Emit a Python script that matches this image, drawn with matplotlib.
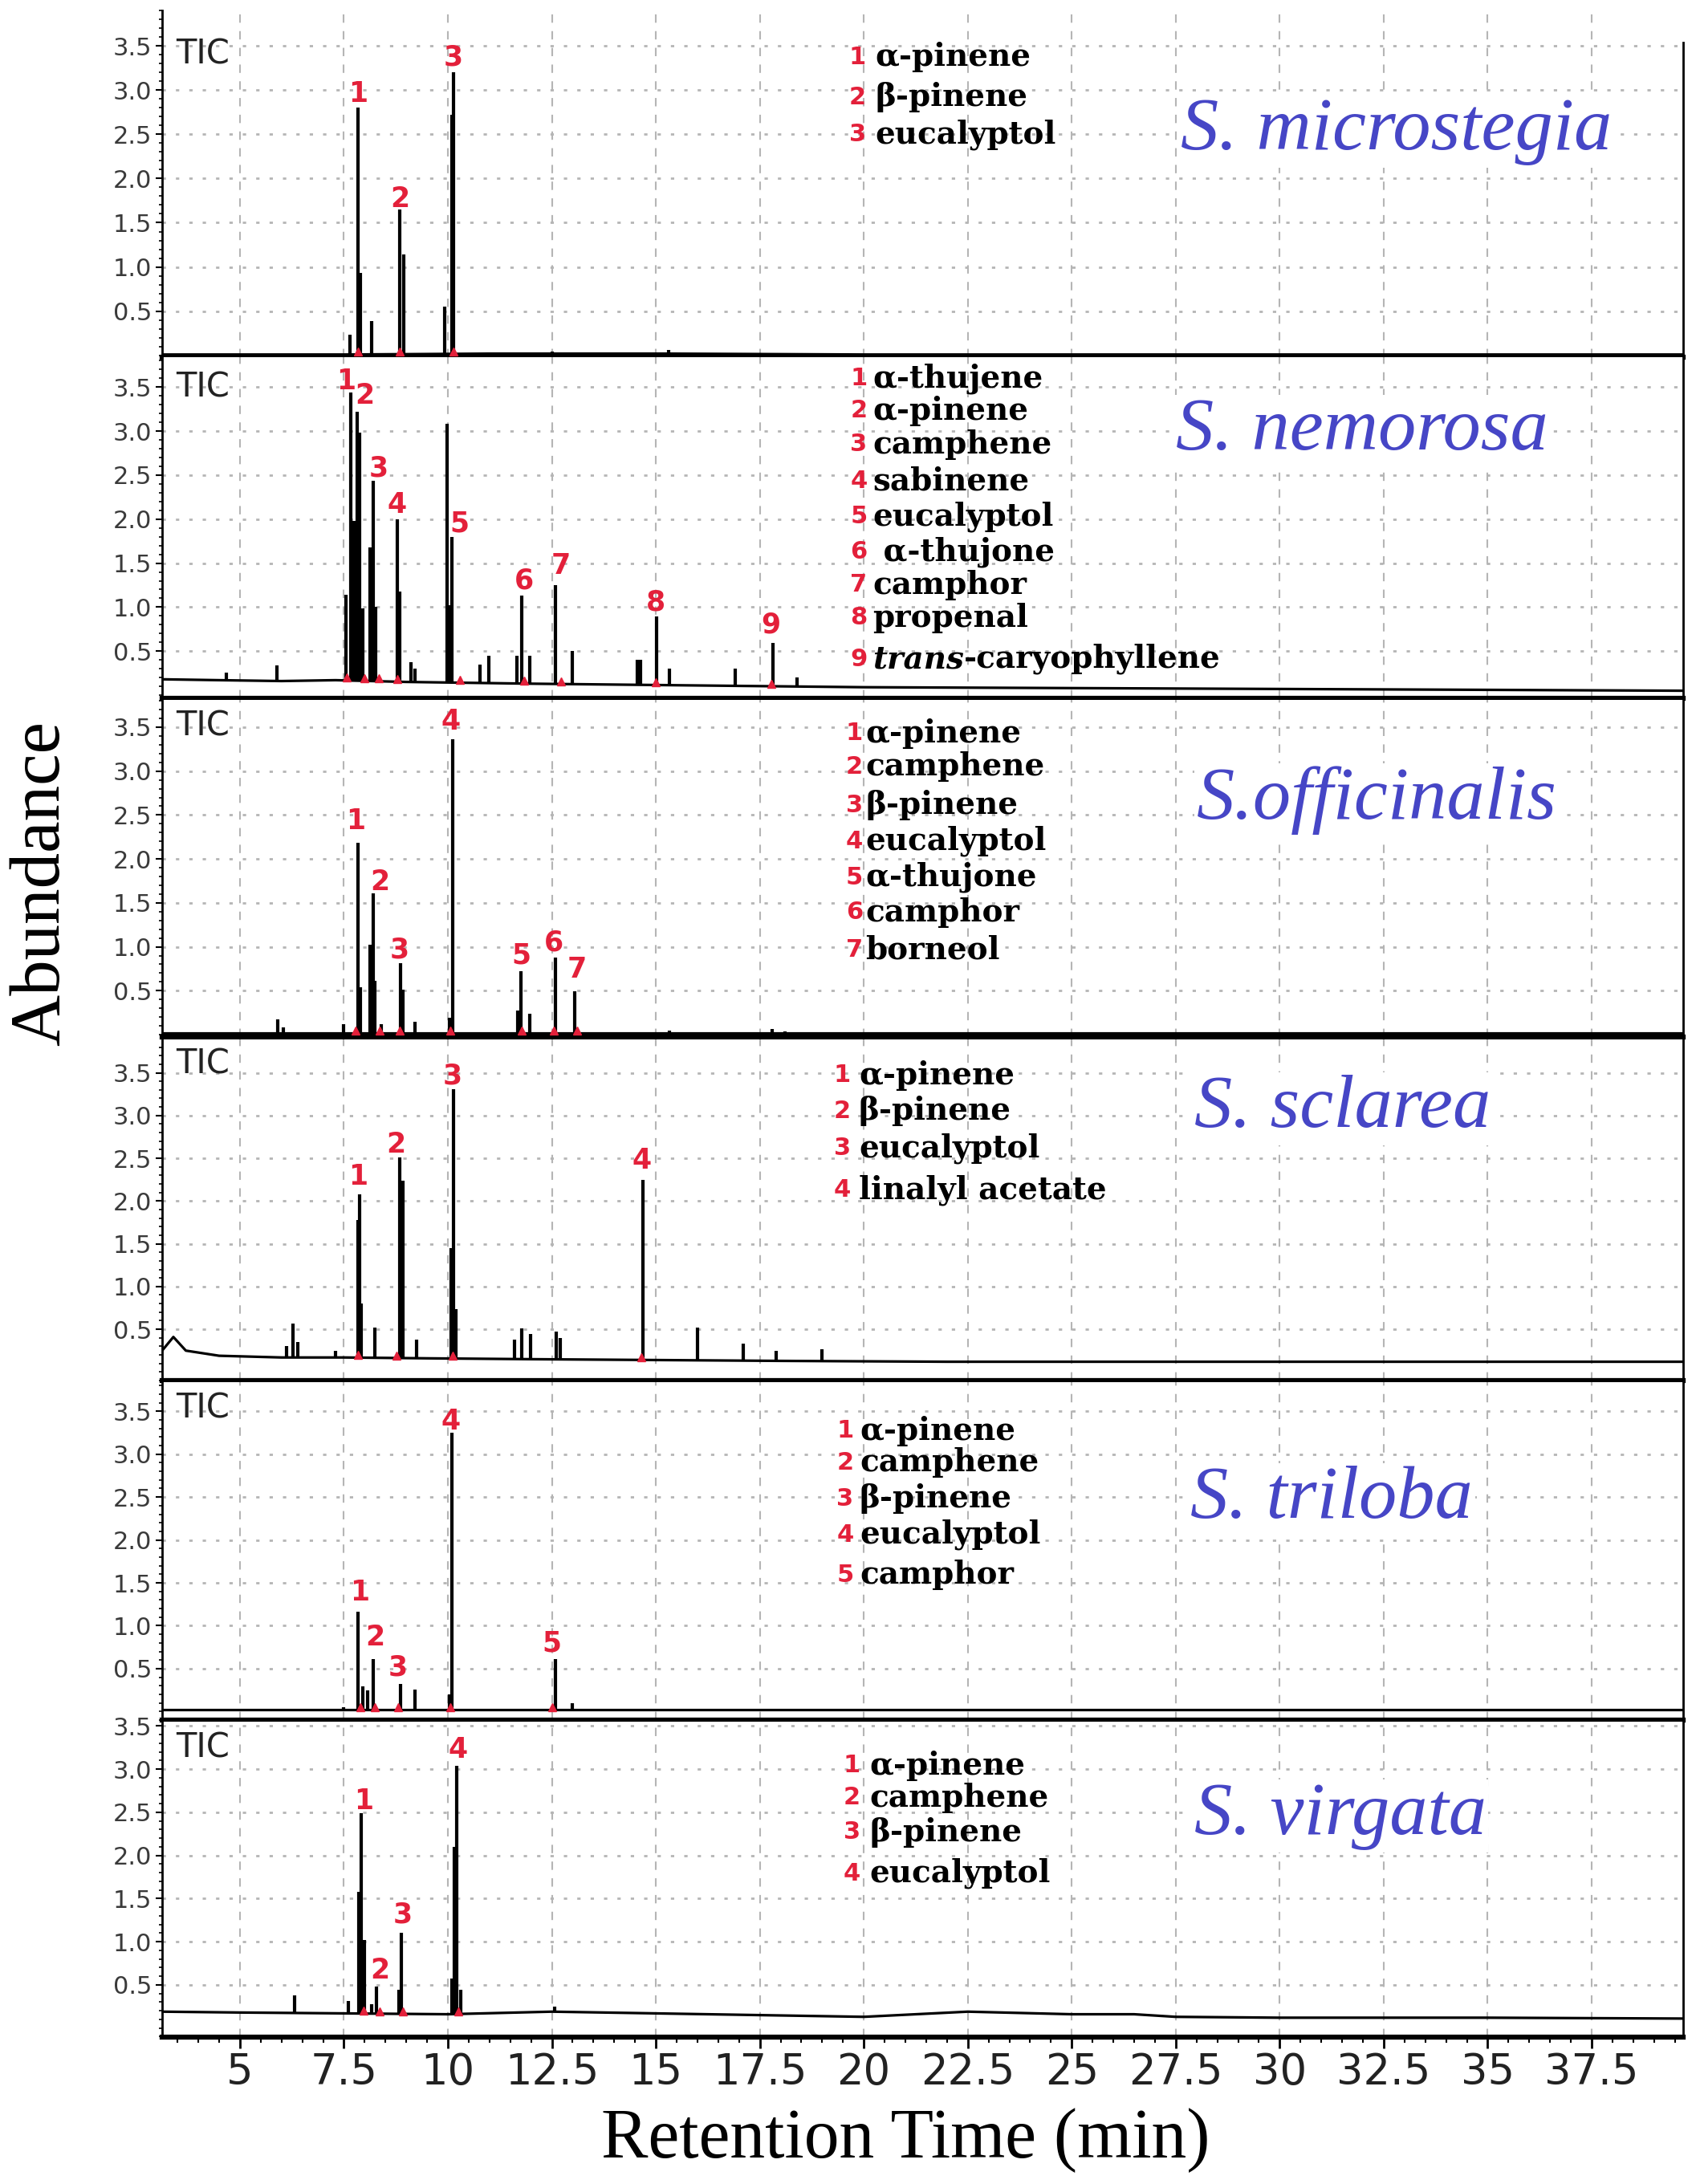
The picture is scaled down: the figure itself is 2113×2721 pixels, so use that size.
import numpy as np
import matplotlib
matplotlib.use("Agg")
import matplotlib.pyplot as plt
from matplotlib.ticker import MultipleLocator, FuncFormatter

# GC-MS chromatograms (TIC) of six Salvia essential oils

RED = "#e3203a"
BLUE = "#4646c6"

species = ["S. microstegia", "S. nemorosa", "S.officinalis",
           "S. sclarea", "S. triloba", "S. virgata"]

# --- S. microstegia ---
rt_mic = [7.65, 7.84, 7.90, 8.17, 8.85, 8.93, 9.93, 10.10, 10.14, 10.96, 12.5, 12.9, 15.3]
ab_mic = [0.23, 2.80, 0.93, 0.39, 1.65, 1.14, 0.55, 2.72, 3.20, 0.03, 0.04, 0.03, 0.06]
base_t_mic = [3.13, 7.5, 11.0, 15.3, 20.0, 39.7]
base_y_mic = [0.01, 0.01, 0.02, 0.02, 0.01, 0.01]
lbl_t_mic = [7.84, 8.85, 10.14]
lbl_y_mic = [2.96, 1.77, 3.37]
cmp_mic = ["α-pinene", "β-pinene", "eucalyptol"]

# --- S. nemorosa ---
rt_nem = [4.68, 5.89, 7.55, 7.67, 7.74, 7.81, 7.88, 7.95, 8.13, 8.20, 8.27, 8.78, 8.85,
          9.11, 9.20, 9.98, 10.04, 10.09, 10.77, 10.99, 11.66, 11.77, 11.96, 12.58,
          13.0, 14.55, 14.64, 15.01, 15.33, 16.9, 17.82, 18.4]
ab_nem = [0.26, 0.34, 1.14, 3.44, 1.98, 3.22, 2.98, 0.99, 1.68, 2.44, 1.00, 2.00, 1.18,
          0.37, 0.30, 3.08, 1.02, 1.80, 0.35, 0.45, 0.45, 1.13, 0.45, 1.25,
          0.50, 0.40, 0.40, 0.89, 0.30, 0.30, 0.59, 0.20]
base_t_nem = [3.13, 4.5, 6.0, 7.3, 9.0, 10.5, 12.0, 14.0, 16.0, 18.0, 20.0, 25.0, 30.0, 35.0, 39.7]
base_y_nem = [0.18, 0.17, 0.16, 0.17, 0.15, 0.14, 0.13, 0.12, 0.11, 0.10, 0.09, 0.08, 0.07, 0.06, 0.05]
lbl_t_nem = [7.56, 8.0, 8.34, 8.78, 10.28, 11.83, 12.72, 14.99, 17.77]
lbl_y_nem = [3.57, 3.40, 2.58, 2.16, 1.95, 1.30, 1.47, 1.05, 0.80]
cmp_nem = ["α-thujene", "α-pinene", "camphene", "sabinene", "eucalyptol",
           " α-thujone", "camphor", "propenal", "trans-caryophyllene"]

# --- S. officinalis ---
rt_off = [5.9, 6.05, 7.5, 7.84, 7.90, 8.13, 8.20, 8.25, 8.40, 8.86, 8.92, 9.2, 10.03,
          10.11, 11.68, 11.75, 11.97, 12.58, 13.05, 15.32, 17.8, 18.1]
ab_off = [0.17, 0.08, 0.12, 2.18, 0.54, 1.02, 1.61, 0.61, 0.12, 0.81, 0.51, 0.15, 0.19,
          3.36, 0.27, 0.72, 0.24, 0.88, 0.49, 0.05, 0.06, 0.04]
base_t_off = [3.13, 10.0, 20.0, 39.7]
base_y_off = [0.02, 0.02, 0.02, 0.02]
lbl_t_off = [7.78, 8.36, 8.84, 10.06, 11.77, 12.55, 13.11]
lbl_y_off = [2.43, 1.74, 0.96, 3.56, 0.90, 1.05, 0.74]
cmp_off = ["α-pinene", "camphene", "β-pinene", "eucalyptol", "α-thujone", "camphor", "borneol"]

# --- S. sclarea ---
rt_scl = [6.12, 6.28, 6.4, 7.3, 7.84, 7.87, 7.92, 8.24, 8.84, 8.92, 9.25, 10.07, 10.13,
          10.2, 11.61, 11.77, 11.99, 12.6, 12.7, 14.69, 16.0, 17.1, 17.9, 19.0]
ab_scl = [0.30, 0.57, 0.35, 0.25, 1.78, 2.08, 0.80, 0.52, 2.51, 2.24, 0.38, 1.45, 3.31,
          0.74, 0.38, 0.51, 0.44, 0.47, 0.40, 2.25, 0.52, 0.33, 0.25, 0.27]
base_t_scl = [3.13, 3.4, 3.7, 4.5, 6.0, 7.5, 9.5, 12.0, 15.0, 18.0, 22.0, 27.0, 32.0, 39.7]
base_y_scl = [0.25, 0.41, 0.25, 0.19, 0.17, 0.17, 0.16, 0.15, 0.14, 0.13, 0.12, 0.12, 0.12, 0.12]
lbl_t_scl = [7.84, 8.76, 10.11, 14.66]
lbl_y_scl = [2.28, 2.66, 3.46, 2.47]
cmp_scl = ["α-pinene", "β-pinene", "eucalyptol", "linalyl acetate"]

# --- S. triloba ---
rt_tri = [7.5, 7.84, 7.95, 8.07, 8.20, 8.87, 9.2, 10.03, 10.09, 12.58, 13.0]
ab_tri = [0.05, 1.16, 0.29, 0.25, 0.61, 0.32, 0.26, 0.20, 3.25, 0.61, 0.10]
base_t_tri = [3.13, 10.0, 20.0, 39.7]
base_y_tri = [0.02, 0.02, 0.02, 0.02]
lbl_t_tri = [7.89, 8.25, 8.80, 10.06, 12.50]
lbl_y_tri = [1.39, 0.86, 0.51, 3.38, 0.79]
cmp_tri = ["α-pinene", "camphene", "β-pinene", "eucalyptol", "camphor"]

# --- S. virgata ---
rt_vir = [6.32, 7.6, 7.85, 7.92, 7.99, 8.16, 8.28, 8.83, 8.89, 10.10, 10.16, 10.22, 10.3, 12.56]
ab_vir = [0.38, 0.31, 1.58, 2.49, 1.02, 0.28, 0.48, 0.44, 1.10, 0.57, 2.10, 3.04, 0.44, 0.25]
base_t_vir = [3.13, 5.0, 7.5, 10.0, 12.5, 15.0, 17.5, 20.0, 22.5, 25.0, 26.5, 27.5, 30.0, 35.0, 39.7]
base_y_vir = [0.19, 0.18, 0.17, 0.16, 0.19, 0.17, 0.15, 0.13, 0.19, 0.16, 0.16, 0.13, 0.12, 0.12, 0.11]
lbl_t_vir = [7.98, 8.36, 8.91, 10.25]
lbl_y_vir = [2.63, 0.67, 1.31, 3.22]
cmp_vir = ["α-pinene", "camphene", "β-pinene", "eucalyptol"]

rts = [rt_mic, rt_nem, rt_off, rt_scl, rt_tri, rt_vir]
abs_ = [ab_mic, ab_nem, ab_off, ab_scl, ab_tri, ab_vir]
base_ts = [base_t_mic, base_t_nem, base_t_off, base_t_scl, base_t_tri, base_t_vir]
base_ys = [base_y_mic, base_y_nem, base_y_off, base_y_scl, base_y_tri, base_y_vir]
lbl_ts = [lbl_t_mic, lbl_t_nem, lbl_t_off, lbl_t_scl, lbl_t_tri, lbl_t_vir]
lbl_ys = [lbl_y_mic, lbl_y_nem, lbl_y_off, lbl_y_scl, lbl_y_tri, lbl_y_vir]
compounds = [cmp_mic, cmp_nem, cmp_off, cmp_scl, cmp_tri, cmp_vir]

# layout (pixels of the 2113x2721 figure) and text placement per panel
W, H = 2113, 2721
LEFT, RIGHT = 202, 2097
panel_top = [13, 445, 872, 1295, 1722, 2145]
panel_bot = [445, 870, 1292, 1720, 2143, 2538]
ylims = [(-0.02, 3.9), (-0.036, 3.84), (-0.027, 3.81), (-0.1, 3.89), (-0.1, 3.84), (-0.105, 3.55)]
tic_y = [3.41, 3.50, 3.51, 3.60, 3.54, 3.25]
num_x = [19.85, 19.88, 19.77, 19.48, 19.55, 19.71]
txt_x = [20.27, 20.21, 20.04, 19.88, 19.90, 20.14]
leg_y = [[3.37, 2.92, 2.50],
         [3.60, 3.23, 2.85, 2.43, 2.03, 1.63, 1.25, 0.88, 0.41],
         [3.43, 3.05, 2.61, 2.20, 1.79, 1.39, 0.96],
         [3.47, 3.05, 2.62, 2.13],
         [3.27, 2.90, 2.48, 2.06, 1.59],
         [3.04, 2.67, 2.27, 1.79]]
sp_x = [27.61, 27.50, 28.00, 27.94, 27.86, 27.94]
sp_y = [2.53, 3.00, 2.67, 3.08, 2.47, 2.46]

plt.rcParams['font.family'] = ['DejaVu Sans']

fig = plt.figure(figsize=(W / 100, H / 100), dpi=100)

for i in range(6):
    rect = [LEFT / W, 1 - panel_bot[i] / H, (RIGHT - LEFT) / W,
            (panel_bot[i] - panel_top[i]) / H]
    ax = fig.add_axes(rect)
    ax.set_xlim(3.13, 39.7)
    ax.set_ylim(*ylims[i])

    # grid
    ax.set_xticks(np.arange(5, 38.0, 2.5))
    ax.set_yticks(np.arange(0.5, 3.51, 0.5))
    ax.xaxis.grid(True, linestyle=(0, (5, 5)), color="#b5b5b5", lw=1.5)
    ax.yaxis.grid(True, linestyle=(0, (1.5, 4.5)), color="#b5b5b5", lw=2.0)
    ax.set_axisbelow(True)

    # spines
    ax.spines['top'].set_visible(False)
    ax.spines['bottom'].set_linewidth(4.5)
    ax.spines['left'].set_linewidth(2.0)
    ax.spines['right'].set_linewidth(2.0)
    if i == 0:
        ax.spines['right'].set_bounds(ylims[0][0], 3.54)

    # y axis
    ax.yaxis.set_minor_locator(MultipleLocator(0.1))
    ax.yaxis.set_major_formatter(FuncFormatter(lambda v, p: "%.1f" % v))
    ax.tick_params(axis='y', which='major', length=6, width=1.5, direction='out',
                   labelsize=22, labelcolor="#3a3a3a", pad=3)
    ax.tick_params(axis='y', which='minor', length=3, width=1.2, direction='out')

    # x axis
    if i == 5:
        ax.xaxis.set_minor_locator(MultipleLocator(0.5))
        ax.xaxis.set_major_formatter(FuncFormatter(lambda v, p: "%g" % v))
        ax.tick_params(axis='x', which='major', length=10, width=2, direction='out',
                       labelsize=38, labelcolor="#222222", pad=3)
        ax.tick_params(axis='x', which='minor', length=5, width=1.5, direction='out')
    else:
        ax.tick_params(axis='x', which='both', length=0, labelbottom=False)

    # trace: baseline + peaks
    rt = np.array(rts[i])
    foot = np.interp(rt, base_ts[i], base_ys[i])
    ax.plot(base_ts[i], base_ys[i], color="black", lw=2.3, zorder=3)
    ax.vlines(rt, foot, abs_[i], color="black", lw=3.0, zorder=3)

    # integration marks and peak numbers
    lt = np.array(lbl_ts[i])
    ax.plot(lt, np.interp(lt, base_ts[i], base_ys[i]) + 0.03, ls="none", marker="^",
            color=RED, ms=7, zorder=4)
    for n, (x, y) in enumerate(zip(lbl_ts[i], lbl_ys[i]), start=1):
        ax.text(x, y, str(n), color=RED, fontsize=25, fontweight="bold",
                ha="center", va="center", zorder=5)

    ax.text(3.46, tic_y[i], "TIC", fontsize=30, color="#222222", ha="left", va="center")

    # compound legend
    for n, (name, y) in enumerate(zip(compounds[i], leg_y[i]), start=1):
        ax.text(num_x[i], y, str(n), color=RED, fontsize=22, fontweight="bold",
                ha="center", va="center", zorder=6)
        kw = dict(fontsize=28, fontweight="bold", family="DejaVu Serif", color="black",
                  va="center", zorder=6)
        if name.startswith("trans-"):
            t1 = ax.text(txt_x[i], y, "trans", style="italic", ha="left", **kw)
            kw.pop("va")
            ax.annotate(name[5:], xy=(1, 0), xycoords=t1, ha="left", va="bottom", **kw)
        else:
            ax.text(txt_x[i], y, name, ha="left", **kw)

    ax.text(sp_x[i], sp_y[i], species[i], fontsize=68, style="italic",
            family="Liberation Serif", color=BLUE, ha="left", va="center",
            bbox=dict(facecolor="white", edgecolor="none", pad=2), zorder=6)

fig.text(1128 / W, 1 - 2667 / H, "Retention Time (min)", fontsize=63,
         family="Liberation Serif", ha="center", va="center")
fig.text(52 / W, 1 - 1100 / H, "Abundance", fontsize=64, rotation=90,
         family="Liberation Serif", ha="center", va="center")

fig.savefig("out.png", dpi=100, facecolor="white")
